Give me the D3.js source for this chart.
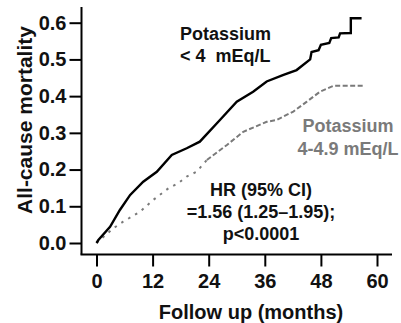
<!DOCTYPE html>
<html><head><meta charset="utf-8">
<script src="https://cdn.jsdelivr.net/npm/d3@7"></script>
<style>
html,body{margin:0;padding:0;background:#fff;}
svg text{font-family:"Liberation Sans",Arial,sans-serif;font-weight:bold;}
</style></head>
<body><svg id="c" width="401" height="323"></svg>
<script>
// Data
const lowK_time  = [0,0.4,2.9,5,7.2,10,12.9,16.1,19.3,22.1,26.4,30,33.5,36.4,40,42.8,45.7,46.0,47.5,48.0,49.8,50.2,51.8,52.1,54.4,54.4,56.7];
const lowK_value = [0,0.008,0.044,0.09,0.131,0.167,0.194,0.24,0.258,0.276,0.335,0.385,0.412,0.44,0.458,0.471,0.50,0.52,0.525,0.54,0.545,0.558,0.56,0.571,0.572,0.612,0.612];
const normK_time  = [0,3.6,5.7,9.3,12.1,15.4,17.5,19.3,21.4,23.6,27.9,31.4,36.4,38.5,42.1,45,47.8,50.7,57.1];
const normK_value = [0,0.04,0.058,0.085,0.117,0.149,0.163,0.181,0.194,0.226,0.267,0.303,0.33,0.335,0.358,0.385,0.412,0.428,0.428];
const xTicks = [0,12,24,36,48,60];
const yTicks = [0,0.1,0.2,0.3,0.4,0.5,0.6];
const xTitle = "Follow up (months)";
const yTitle = "All-cause mortality";
const label1 = ["Potassium","< 4\u00a0\u00a0mEq/L"];
const label2 = ["Potassium","4-4.9 mEq/L"];
const hrText = ["HR (95% CI)","=1.56 (1.25\u20131.95);","p<0.0001"];

const svg = d3.select("#c");
const x = d3.scaleLinear().domain([0,60]).range([96.5,377]);
const y = d3.scaleLinear().domain([0,0.6]).range([243,22.7]);
const axX = 81.5, axY = 254.5;

// axis lines
svg.append("line").attr("x1",axX).attr("x2",axX).attr("y1",7).attr("y2",axY)
  .attr("stroke","#000").attr("stroke-width",2);
svg.append("line").attr("x1",axX-1).attr("x2",392).attr("y1",axY).attr("y2",axY)
  .attr("stroke","#000").attr("stroke-width",2);

const gy = svg.append("g").attr("transform",`translate(${axX},0)`)
  .call(d3.axisLeft(y).tickValues(yTicks).tickFormat(d3.format(".1f")).tickSize(12).tickPadding(3));
const gx = svg.append("g").attr("transform",`translate(0,${axY})`)
  .call(d3.axisBottom(x).tickValues(xTicks).tickFormat(d3.format("d")).tickSize(12).tickPadding(7));
[gx,gy].forEach(g=>{
  g.select(".domain").remove();
  g.selectAll(".tick line").attr("stroke","#000").attr("stroke-width",2);
  g.selectAll(".tick text").attr("fill","#111").style("font-size","20px").style("font-family","Liberation Sans, Arial, sans-serif").style("font-weight","bold");
});

// titles
svg.append("text").attr("x",251).attr("y",319).attr("text-anchor","middle")
  .style("font-size","20px").attr("fill","#111").text(xTitle);
svg.append("text").attr("transform","translate(32,120) rotate(-90)").attr("text-anchor","middle")
  .style("font-size","21px").attr("fill","#111").text(yTitle);

// curves
const line = d3.line().x(d=>x(d[0])).y(d=>y(d[1])).curve(d3.curveLinear);
const normPts = normK_time.map((t,i)=>[t,normK_value[i]]);
svg.append("path").datum(normPts.filter(d=>d[0]<=23.6))
  .attr("d",line).attr("fill","none").attr("stroke","#7a7a7a").attr("stroke-width",2)
  .attr("stroke-dasharray","2.5,5.5");
svg.append("path").datum(normPts.filter(d=>d[0]>=23.6))
  .attr("d",line).attr("fill","none").attr("stroke","#7a7a7a").attr("stroke-width",2)
  .attr("stroke-dasharray","5,2.5");
svg.append("path").datum(lowK_time.map((t,i)=>[t,lowK_value[i]]))
  .attr("d",line).attr("fill","none").attr("stroke","#000").attr("stroke-width",2.4);

// annotations
const a1 = svg.append("text").style("font-size","18px").attr("fill","#111");
a1.append("tspan").attr("x",180).attr("y",39.5).text(label1[0]);
a1.append("tspan").attr("x",180).attr("y",62).text(label1[1]);
const a2 = svg.append("text").style("font-size","18px").attr("fill","#7a7a7a").attr("text-anchor","middle");
a2.append("tspan").attr("x",348).attr("y",132).text(label2[0]);
a2.append("tspan").attr("x",348).attr("y",155).text(label2[1]);
const a3 = svg.append("text").style("font-size","18px").attr("fill","#111").attr("text-anchor","middle");
hrText.forEach((t,i)=>a3.append("tspan").attr("x",261).attr("y",196+i*22).text(t));
</script></body></html>
